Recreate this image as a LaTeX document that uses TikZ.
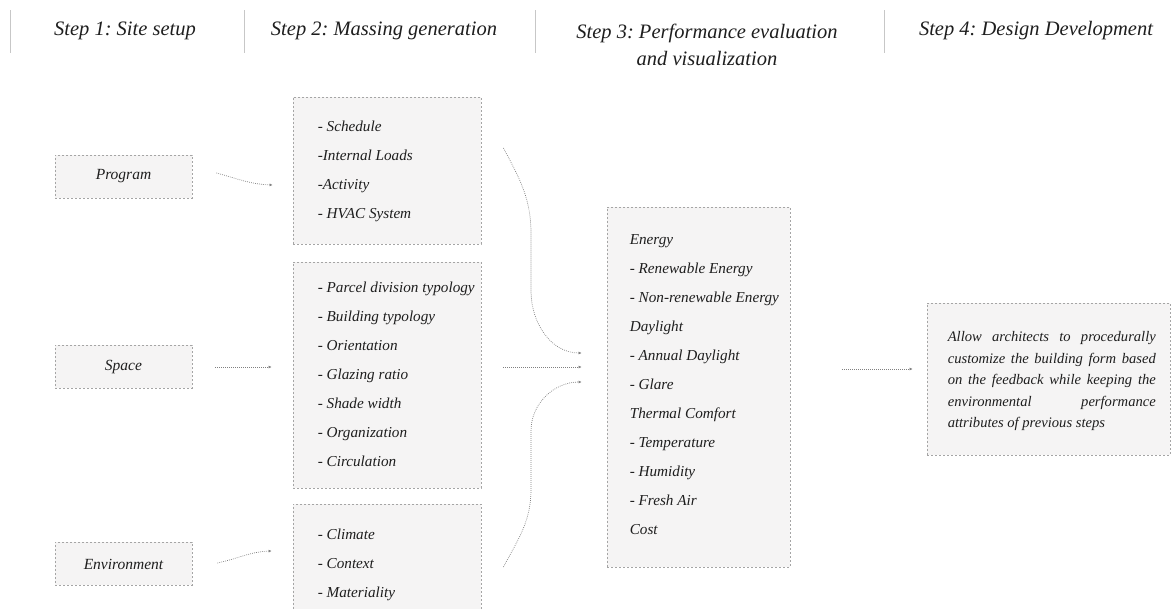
\documentclass[tikz,border=0pt]{standalone}
\usepackage{fontspec}
\setmainfont{Liberation Serif}
\usetikzlibrary{arrows.meta}
\frenchspacing

\definecolor{boxfill}{HTML}{F5F4F4}
\definecolor{boxline}{HTML}{A5A5A5}
\definecolor{ink}{HTML}{1E1E1E}

\begin{document}
\begin{tikzpicture}[x=1pt,y=1pt,
    header/.style={font=\fontsize{20.5}{27}\selectfont\itshape, text=ink, align=center, inner sep=0pt},
    divider/.style={draw=black!22, line width=0.8pt},
    sitebox/.style={draw=boxline, fill=boxfill, dash pattern=on 2pt off 2pt, line width=0.8pt,
        minimum width=137pt, minimum height=43pt, inner sep=0pt,
        font=\fontsize{15.5}{18}\selectfont\itshape, text=ink},
    listbox/.style={draw=boxline, fill=boxfill, dash pattern=on 2pt off 2pt, line width=0.8pt, inner sep=0pt},
    listtext/.style={font=\fontsize{15.2}{29}\selectfont\itshape, text=ink, align=left, inner sep=0pt, anchor=west},
    link/.style={draw=black!50, line width=0.7pt, dash pattern=on 0.8pt off 1.2pt,
        -{Latex[length=3pt,width=3pt]}}]

  \useasboundingbox (0,0) rectangle (1172,609);

  % column headers
  \foreach \x in {10,244,535,884}
    \draw[divider] (\x,556) -- (\x,599);
  \node[header, anchor=base] (site)   at (125,573)  {Step 1: Site setup};
  \node[header, anchor=base] (mass)   at (384,573)  {Step 2: Massing generation};
  \node[header]              (perf)   at (707,564.5) {Step 3: Performance evaluation\\and visualization};
  \node[header, anchor=base] (devel)  at (1036,573) {Step 4: Design Development};

  % step 1
  \node[sitebox] (prog)  at (123.5,432.5) {Program};
  \node[sitebox] (space) at (123.5,242)   {Space};
  \node[sitebox] (env)   at (123.5,45)    {Environment};

  % step 2
  \node[listbox, minimum width=188pt, minimum height=147pt] (boxA) at (387,438.5) {};
  \node[listbox, minimum width=188pt, minimum height=226pt] (boxB) at (387,234) {};
  \node[listbox, minimum width=188pt, minimum height=109pt] (boxC) at (387,50.5) {};
  \node[listtext] (boxA-txt) at ([xshift=25pt,yshift=-1pt]boxA.west)
    {- Schedule\\-Internal Loads\\-Activity\\- HVAC System};
  \node[listtext] (boxB-txt) at ([xshift=25pt,yshift=1pt]boxB.west)
    {- Parcel division typology\\- Building typology\\- Orientation\\- Glazing ratio\\- Shade width\\- Organization\\- Circulation};
  \node[listtext] (boxC-txt) at ([xshift=25pt,yshift=-6pt]boxC.west)
    {- Climate\\- Context\\- Materiality};

  % step 3
  \node[listbox, minimum width=183pt, minimum height=360pt] (eval) at (698.5,222) {};
  \node[listtext] (eval-txt) at ([xshift=23pt,yshift=2pt]eval.west)
    {Energy\\- Renewable Energy\\- Non-renewable Energy\\Daylight\\- Annual Daylight\\- Glare\\Thermal Comfort\\- Temperature\\- Humidity\\- Fresh Air\\Cost};

  % step 4
  \node[listbox, minimum width=243pt, minimum height=152pt] (design) at (1048.5,230) {};
  \node[anchor=west, inner sep=0pt, text width=208pt, align=justify, text=ink,
        font=\fontsize{14.6}{21.5}\selectfont\itshape] (design-txt) at ([xshift=21pt,yshift=-2pt]design.west)
    {Allow architects to procedurally\linebreak customize the building form based\linebreak
     on the feedback while keeping the\linebreak environmental performance\linebreak
     attributes of previous steps};

  % connectors
  \draw[link] ([xshift=24pt,yshift=3.5pt]prog.east) to[out=-15,in=178] ([xshift=-20pt,yshift=-14.5pt]boxA.west);
  \draw[link] ([xshift=23pt]space.east) -- ([xshift=-21pt,yshift=8pt]boxB.west);
  \draw[link] ([xshift=25pt,yshift=1pt]env.east) to[out=12,in=182] ([xshift=-21pt,yshift=7.5pt]boxC.west);

  \draw[link] ([xshift=22pt,yshift=22.5pt]boxA.east) to[out=-62,in=90] (531,375) -- (531,318)
    to[out=-90,in=180] ([xshift=-25pt,yshift=34pt]eval.west);
  \draw[link] ([xshift=22pt,yshift=8pt]boxB.east) -- ([xshift=-25pt,yshift=20pt]eval.west);
  \draw[link] ([xshift=22pt,yshift=-8.5pt]boxC.east) to[out=62,in=-90] (531,120) -- (531,178)
    to[out=90,in=180] ([xshift=-25pt,yshift=5pt]eval.west);

  \draw[link] ([xshift=52pt,yshift=18pt]eval.east) -- ([xshift=-14pt,yshift=10pt]design.west);
\end{tikzpicture}
\end{document}
